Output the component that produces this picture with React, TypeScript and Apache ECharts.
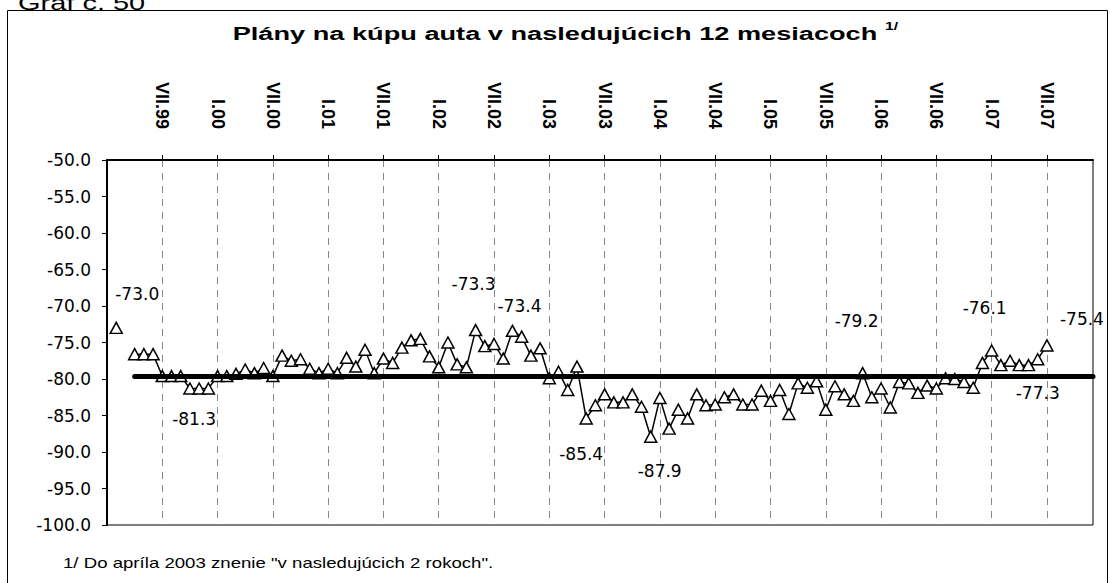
import React, { useEffect, useRef } from "react";
import * as echarts from "echarts";

const monthNames = ["I", "II", "III", "IV", "V", "VI", "VII", "VIII", "IX", "X", "XI", "XII"];
const years = ["99", "00", "01", "02", "03", "04", "05", "06", "07"];
const categories: string[] = years.flatMap((y) => monthNames.map((m) => `${m}.${y}`));

// Monthly survey balance (I.99 ... VII.07)
const values: (number | null)[] = [
  null, -73.0, null, -76.6, -76.6, -76.6, -79.6, -79.6, -79.6, -81.3, -81.3, -81.3,
  -79.6, -79.6, -79.3, -78.7, -79.2, -78.5, -79.6, -76.8, -77.5, -77.3, -78.6, -79.2,
  -78.6, -79.2, -77.1, -78.3, -76.0, -79.2, -77.2, -77.8, -75.7, -74.7, -74.5, -76.9,
  -78.4, -75.0, -78.0, -78.4, -73.3, -75.5, -75.2, -77.2, -73.4, -74.2, -76.8, -75.8,
  -79.9, -79.0, -81.5, -78.3, -85.4, -83.6, -82.1, -83.2, -83.2, -82.1, -83.8, -87.9,
  -82.6, -86.8, -84.2, -85.4, -82.1, -83.6, -83.5, -82.5, -82.1, -83.5, -83.5, -81.6,
  -83.0, -81.5, -84.8, -80.6, -81.2, -80.3, -84.2, -81.0, -82.1, -83.0, -79.2, -82.5,
  -81.3, -83.9, -80.4, -80.6, -81.9, -80.9, -81.3, -79.9, -80.0, -80.4, -81.2, -77.8,
  -76.1, -78.1, -77.5, -78.1, -78.1, -77.3, -75.4,
];

const meanValue = -79.6;
const meanFrom = "IV.99";
const meanTo = "XII.07";

const labeledIndex = [1, 10, 40, 44, 52, 59, 82, 96, 101, 102];
const labelOffsets: [number, number][] = [
  [21, -34], [-5, 31], [-2, -46], [7, -25], [-5, 36], [9, 34], [-6, -52], [-7, -43], [0, 34], [35, -26],
];

const yMin = -100;
const yMax = -50;
const yStep = 5;

export default function App() {
  const ref = useRef<HTMLDivElement>(null);
  useEffect(() => {
    document.body.style.margin = "0";
    if (!ref.current) return;
    const chart = echarts.init(ref.current, undefined, { renderer: "svg" });
    const tickFn = (idx: number) => idx % 6 === 0 && idx > 0;
    const seriesData = values.map((v, i) => {
      const k = labeledIndex.indexOf(i);
      if (k < 0 || v === null) return v;
      return {
        value: v,
        label: {
          show: true,
          position: "inside",
          offset: labelOffsets[k],
          formatter: (p: any) => Number(p.value).toFixed(1),
          fontFamily: "DejaVu Sans",
          fontSize: 17,
          color: "#000",
        },
      };
    });
    chart.setOption({
      animation: false,
      backgroundColor: "#fff",
      grid: {
        left: 107,
        right: 17,
        top: 160,
        bottom: 58,
        show: true,
        borderColor: "#000",
        borderWidth: 1,
      },
      xAxis: {
        type: "category",
        data: categories,
        position: "top",
        boundaryGap: false,
        axisLine: { show: true, lineStyle: { color: "#000", width: 2 } },
        axisTick: { show: true, interval: tickFn, length: 5, lineStyle: { color: "#000", width: 1 } },
        axisLabel: {
          interval: (idx: number) => tickFn(idx),
          rotate: 90,
          margin: 31,
          fontFamily: "Liberation Sans",
          fontWeight: "bold",
          fontSize: 18,
          color: "#000",
        },
        splitLine: {
          show: true,
          interval: tickFn,
          lineStyle: { color: "#888", width: 1, type: [7, 6] },
        },
      },
      yAxis: {
        type: "value",
        min: yMin,
        max: yMax,
        interval: yStep,
        axisLine: { show: true, lineStyle: { color: "#000", width: 2 } },
        axisTick: { show: true, length: 5, lineStyle: { color: "#000", width: 1 } },
        axisLabel: {
          formatter: (v: number) => v.toFixed(1),
          margin: 16,
          fontFamily: "DejaVu Sans",
          fontSize: 17,
          color: "#000",
        },
        splitLine: { show: false },
      },
      series: [
        {
          type: "line",
          data: [],
          z: 1,
          silent: true,
          markLine: {
            silent: true,
            symbol: ["none", "none"],
            label: { show: false },
            lineStyle: { color: "#000", width: 5, type: "solid", cap: "round" },
            data: [[{ coord: [meanFrom, meanValue] }, { coord: [meanTo, meanValue] }]],
          },
        },
        {
          type: "line",
          data: seriesData,
          z: 3,
          connectNulls: false,
          symbol: "triangle",
          symbolSize: [12, 11],
          showAllSymbol: true,
          lineStyle: { color: "#000", width: 1.5 },
          itemStyle: { color: "#fff", borderColor: "#000", borderWidth: 1.5 },
        },
      ],
      graphic: [
        {
          type: "rect",
          z: -10,
          shape: { x: 7.5, y: 10.5, width: 1100, height: 620 },
          style: { fill: "none", stroke: "#000", lineWidth: 1 },
          silent: true,
        },
        {
          type: "text",
          x: 18,
          y: 13,
          scaleX: 1.45,
          style: {
            text: "Graf č. 50",
            font: "20px 'Liberation Sans'",
            fill: "#000",
            textAlign: "left",
            textVerticalAlign: "bottom",
          },
        },
        {
          type: "text",
          x: 555,
          y: 34,
          scaleX: 1.43,
          style: {
            text: "Plány na kúpu auta v nasledujúcich 12 mesiacoch",
            font: "bold 19px 'Liberation Sans'",
            fill: "#000",
            textAlign: "center",
            textVerticalAlign: "middle",
          },
        },
        {
          type: "text",
          x: 885,
          y: 26,
          scaleX: 1.43,
          style: {
            text: "1/",
            font: "bold 11px 'Liberation Sans'",
            fill: "#000",
            textAlign: "left",
            textVerticalAlign: "middle",
          },
        },
        {
          type: "text",
          x: 63,
          y: 563,
          scaleX: 1.33,
          style: {
            text: '1/ Do apríla 2003 znenie "v nasledujúcich 2 rokoch".',
            font: "14px 'Liberation Sans'",
            fill: "#000",
            textAlign: "left",
            textVerticalAlign: "middle",
          },
        },
      ],
    });
    return () => chart.dispose();
  }, []);
  return <div ref={ref} style={{ width: 1110, height: 583 }} />;
}
